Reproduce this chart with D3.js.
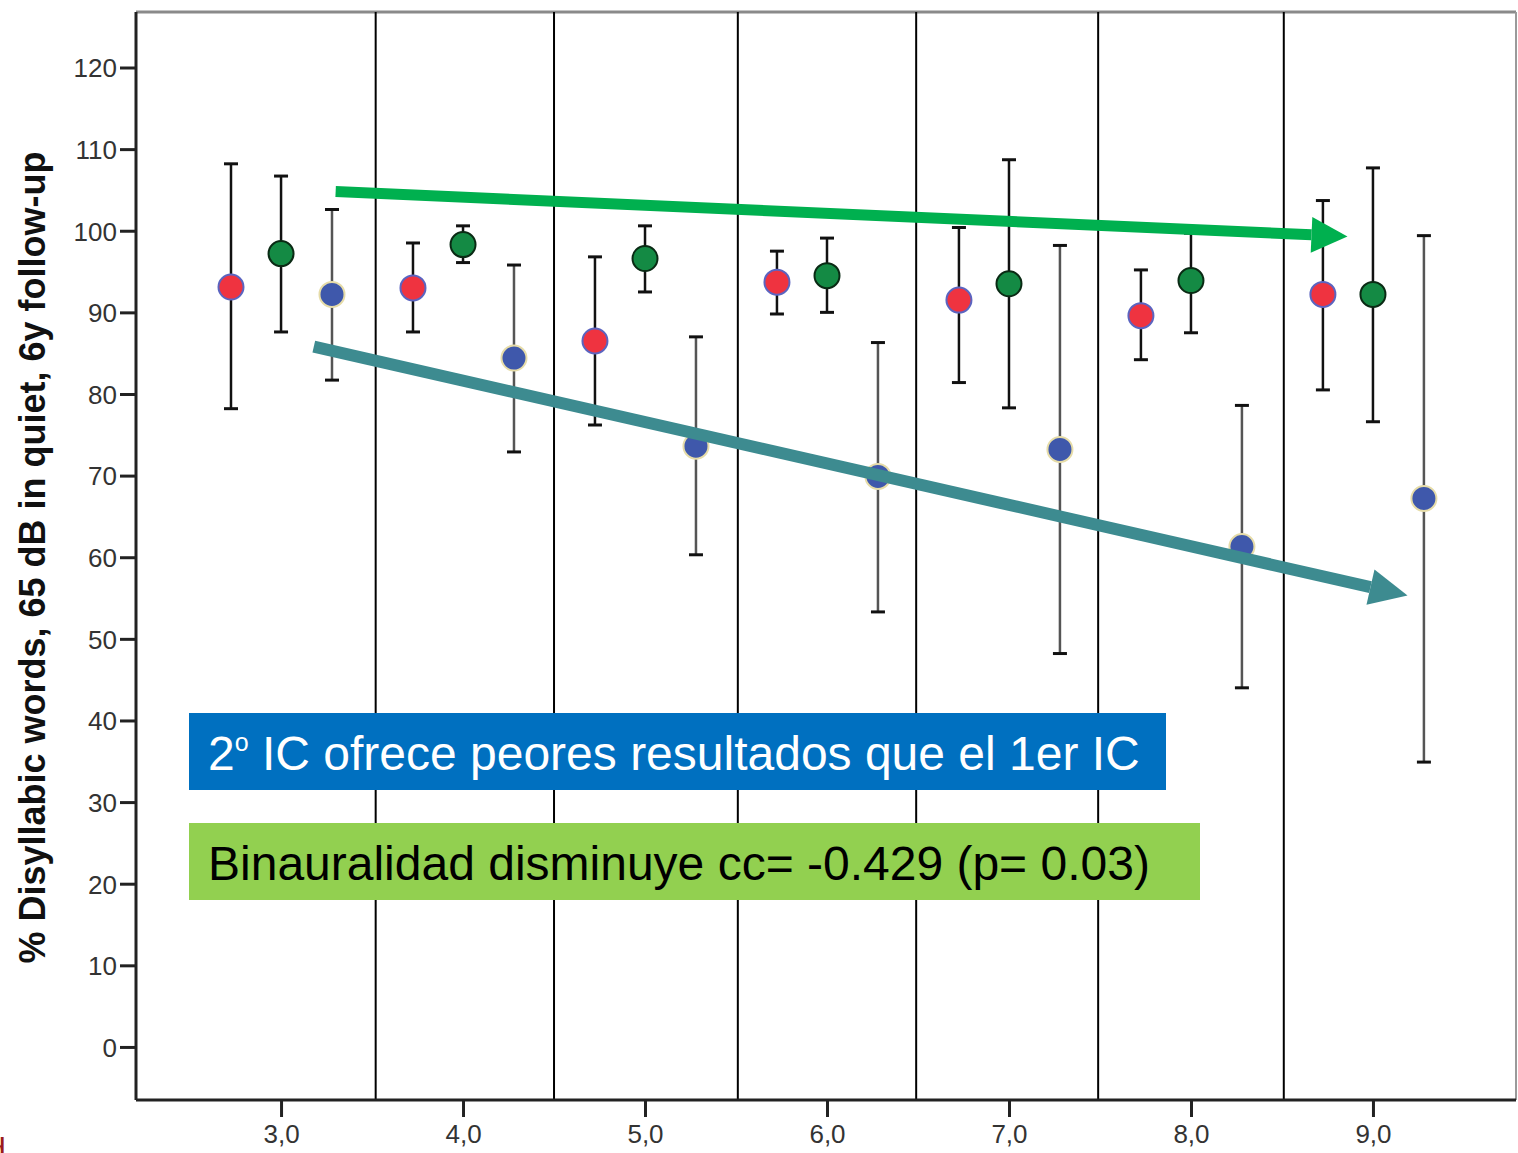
<!DOCTYPE html>
<html>
<head>
<meta charset="utf-8">
<script src="https://cdn.jsdelivr.net/npm/d3@7"></script>
<style>
  body { margin: 0; background: #fff; }
  svg { display: block; font-family: "Liberation Sans", Arial, sans-serif; }
</style>
</head>
<body>
<svg id="chart" width="1518" height="1153"></svg>
<script>
// years of follow-up groups
const years = [3, 4, 5, 6, 7, 8, 9];

// red series (1st implant)
const redMean  = [93.1, 93.0, 86.5, 93.7, 91.5, 89.6, 92.2];
const redUpper = [108.2, 98.5, 96.8, 97.5, 100.4, 95.2, 103.7];
const redLower = [78.2, 87.6, 76.2, 89.8, 81.4, 84.2, 80.5];

// green series (bilateral)
const greenMean  = [97.2, 98.3, 96.6, 94.5, 93.5, 93.9, 92.2];
const greenUpper = [106.7, 100.6, 100.6, 99.1, 108.7, 99.7, 107.7];
const greenLower = [87.6, 96.1, 92.5, 90.0, 78.3, 87.5, 76.6];

// blue series (2nd implant)
const blueMean  = [92.2, 84.4, 73.6, 69.9, 73.2, 61.3, 67.2];
const blueUpper = [102.6, 95.8, 87.0, 86.3, 98.2, 78.6, 99.4];
const blueLower = [81.7, 72.9, 60.3, 53.3, 48.2, 44.0, 34.9];

const yTicks = [0, 10, 20, 30, 40, 50, 60, 70, 80, 90, 100, 110, 120];
const separators = [3.52, 4.5, 5.51, 6.49, 7.49, 8.51];

// trend arrows, in data units
const greenArrow = { x1: 3.30, y1: 104.8, x2: 8.86, y2: 99.3 };
const tealArrow = { x1: 3.18, y1: 85.8, x2: 9.19, y2: 55.3 };

const series = [
  { offset: -0.275, mean: redMean, upper: redUpper, lower: redLower,
    fill: "#ef3340", stroke: "#5b64c0", bar: "#111" },
  { offset: 0, mean: greenMean, upper: greenUpper, lower: greenLower,
    fill: "#148a44", stroke: "#0a2a14", bar: "#111" },
  { offset: 0.28, mean: blueMean, upper: blueUpper, lower: blueLower,
    fill: "#3f58ab", stroke: "#e6dca8", bar: "#555" }
];

const plotLeft = 136, plotRight = 1516, plotTop = 12, plotBottom = 1100;

const x = d3.scaleLinear().domain([2.203, 9.786]).range([plotLeft, plotRight]);
const y = d3.scaleLinear().domain([-6.5, 126.8]).range([plotBottom, plotTop]);

const svg = d3.select("#chart");

// frame
svg.append("line")
  .attr("x1", plotLeft).attr("x2", plotRight).attr("y1", plotTop).attr("y2", plotTop)
  .style("stroke", "#8a8a8a").style("stroke-width", 3);
svg.append("line")
  .attr("x1", plotRight).attr("x2", plotRight).attr("y1", plotTop).attr("y2", plotBottom)
  .style("stroke", "#9a9a9a").style("stroke-width", 2);

// group separators
svg.selectAll("line.sep")
  .data(separators)
  .enter()
  .append("line")
  .attr("class", "sep")
  .attr("x1", (d) => x(d)).attr("x2", (d) => x(d))
  .attr("y1", plotTop).attr("y2", plotBottom)
  .style("stroke", "#000").style("stroke-width", 2);

// axes
const yAxis = svg.append("g")
  .attr("transform", `translate(${plotLeft},0)`)
  .call(d3.axisLeft(y).tickValues(yTicks).tickSize(16).tickPadding(3));
const xAxis = svg.append("g")
  .attr("transform", `translate(0,${plotBottom})`)
  .call(d3.axisBottom(x).tickValues(years).tickSize(17).tickPadding(8)
    .tickFormat((d) => d3.format(".1f")(d).replace(".", ",")));

[yAxis, xAxis].forEach((a) => {
  a.select(".domain").style("stroke", "#222").style("stroke-width", 3);
  a.selectAll(".tick line").style("stroke", "#222").style("stroke-width", 3);
  a.selectAll(".tick text")
    .style("font-size", "26px")
    .style("fill", "#333")
    .style("font-family", "'Liberation Sans', Arial, sans-serif");
});
yAxis.selectAll(".tick text").attr("dy", "0.36em");
yAxis.select(".domain").attr("d", `M0,${plotTop}V${plotBottom}`);
xAxis.select(".domain").attr("d", `M${plotLeft},0H${plotRight}`);

// axis title
svg.append("text")
  .attr("transform", `translate(45,${(150 + 965) / 2}) rotate(-90)`)
  .attr("text-anchor", "middle")
  .style("font-size", "36px")
  .style("font-weight", "bold")
  .style("fill", "#111")
  .text("% Disyllabic words, 65 dB in quiet, 6y follow-up");

// error bars and markers
const g = svg.append("g");
series.forEach((s) => {
  const rows = years.map((yr, i) => ({
    x: yr + s.offset, mean: s.mean[i], upper: s.upper[i], lower: s.lower[i]
  }));
  const grp = g.append("g");
  grp.selectAll("line.bar")
    .data(rows).enter().append("line")
    .attr("x1", (d) => x(d.x)).attr("x2", (d) => x(d.x))
    .attr("y1", (d) => y(d.upper)).attr("y2", (d) => y(d.lower))
    .style("stroke", s.bar).style("stroke-width", 2.5);
  ["upper", "lower"].forEach((k) => {
    grp.selectAll("line.cap-" + k)
      .data(rows).enter().append("line")
      .attr("x1", (d) => x(d.x) - 7).attr("x2", (d) => x(d.x) + 7)
      .attr("y1", (d) => y(d[k])).attr("y2", (d) => y(d[k]))
      .style("stroke", "#111").style("stroke-width", 3);
  });
  grp.selectAll("circle")
    .data(rows).enter().append("circle")
    .attr("cx", (d) => x(d.x)).attr("cy", (d) => y(d.mean))
    .attr("r", 12.5)
    .style("fill", s.fill)
    .style("stroke", s.stroke)
    .style("stroke-width", 2);
});

// arrows
function drawArrow(a, color, shaft, headLen, headHalf) {
  const x1 = x(a.x1), y1 = y(a.y1), x2 = x(a.x2), y2 = y(a.y2);
  const ang = Math.atan2(y2 - y1, x2 - x1);
  const bx = x2 - headLen * Math.cos(ang), by = y2 - headLen * Math.sin(ang);
  svg.append("line")
    .attr("x1", x1).attr("y1", y1).attr("x2", bx).attr("y2", by)
    .style("stroke", color).style("stroke-width", shaft);
  const nx = -Math.sin(ang), ny = Math.cos(ang);
  svg.append("path")
    .attr("d", `M${x2},${y2}L${bx + nx * headHalf},${by + ny * headHalf}L${bx - nx * headHalf},${by - ny * headHalf}Z`)
    .style("fill", color);
}
drawArrow(greenArrow, "#00b04f", 11, 36, 18);
drawArrow(tealArrow, "#3d8b90", 12, 38, 18);

// annotation boxes
svg.append("rect")
  .attr("x", 189).attr("y", 713).attr("width", 977).attr("height", 77)
  .style("fill", "#0070c0");
const t1 = svg.append("text")
  .attr("x", 208).attr("y", 770)
  .style("font-size", "48px")
  .style("fill", "#fff");
t1.append("tspan").text("2");
t1.append("tspan").attr("dy", -19).style("font-size", "25px").text("o");
t1.append("tspan").attr("dy", 19).text(" IC ofrece peores resultados que el 1er IC");

svg.append("rect")
  .attr("x", 189).attr("y", 823).attr("width", 1011).attr("height", 77)
  .style("fill", "#92d050");
svg.append("text")
  .attr("x", 208).attr("y", 880)
  .style("font-size", "48px")
  .style("fill", "#000")
  .text("Binauralidad disminuye cc= -0.429 (p= 0.03)");

// clipped glyph at lower left edge
svg.append("text")
  .attr("x", -12).attr("y", 1160)
  .style("font-size", "32px")
  .style("fill", "#9b1b1b")
  .text("d");
</script>
</body>
</html>
